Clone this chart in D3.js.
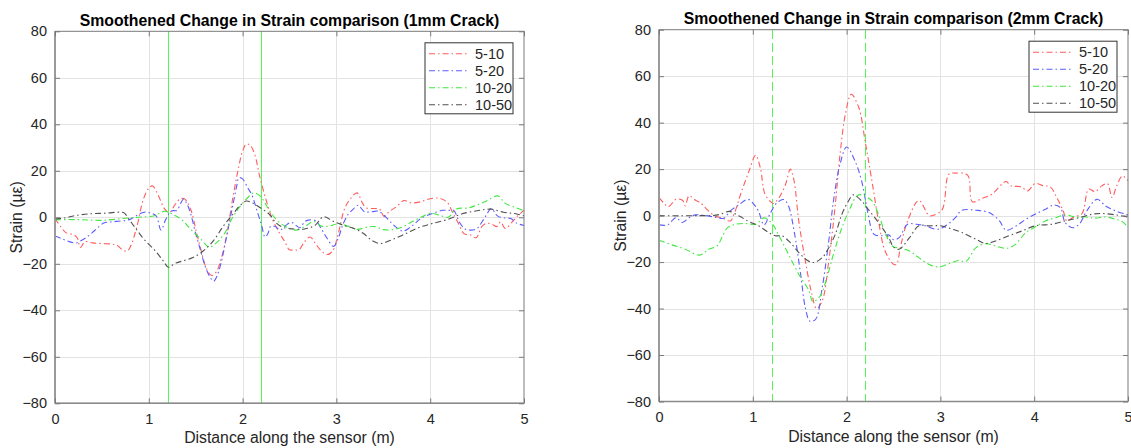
<!DOCTYPE html>
<html>
<head>
<meta charset="utf-8">
<script src="https://cdn.jsdelivr.net/npm/d3@7/dist/d3.min.js"></script>
<style>
  html, body { margin: 0; padding: 0; background: #fff; }
  svg { display: block; font-family: "Liberation Sans", Arial, Helvetica, sans-serif; }
</style>
</head>
<body>
<svg id="chart" width="1131" height="448"></svg>
<script>
// ---- data -------------------------------------------------------------
const seriesNames = ["5-10", "5-20", "10-20", "10-50"];
const xTicks = [0, 1, 2, 3, 4, 5];
const yTicks = [-80, -60, -40, -20, 0, 20, 40, 60, 80];
const crackMarks = [1.2, 2.2];
const titles = [
  "Smoothened Change in Strain comparison (1mm Crack)",
  "Smoothened Change in Strain comparison (2mm Crack)"
];

// 1mm crack: [distance (m), strain (µε)]
const crack1_5_10 = [[0,-0.5],[0.06,-4],[0.12,-6.7],[0.2,-7.5],[0.24,-9],[0.27,-13],[0.32,-10.5],[0.4,-11],[0.5,-11.3],[0.6,-11.5],[0.66,-12],[0.72,-14],[0.77,-14.5],[0.81,-12],[0.87,-4.5],[0.94,7.5],[1.0,12.5],[1.04,13.5],[1.1,9.5],[1.17,3.5],[1.22,2],[1.28,5.5],[1.33,7.8],[1.38,8],[1.45,3],[1.5,-5],[1.55,-13],[1.62,-22.5],[1.67,-25],[1.72,-23.5],[1.77,-18],[1.83,-8],[1.89,7],[1.96,22],[2.0,28.5],[2.04,31.5],[2.08,31],[2.13,27],[2.18,18],[2.25,7.5],[2.32,-1],[2.39,-6.5],[2.45,-10.5],[2.5,-14],[2.55,-14],[2.6,-14],[2.66,-10.5],[2.72,-8.5],[2.78,-11.5],[2.84,-14.5],[2.9,-16],[2.96,-14.5],[3.02,-7],[3.09,4],[3.16,8.5],[3.22,10.5],[3.28,6],[3.32,4],[3.4,3.8],[3.46,3.5],[3.51,0.3],[3.56,2.4],[3.64,4.5],[3.72,7.2],[3.8,6.2],[3.9,6.7],[4.0,8],[4.1,8.2],[4.18,6.5],[4.24,2],[4.3,-2.6],[4.36,-7],[4.43,-7.6],[4.49,-8.8],[4.55,-4],[4.6,-2.6],[4.66,-3],[4.71,-4],[4.75,-2],[4.8,-4.8],[4.87,-2.2],[4.93,0.5],[5.0,3]];
const crack1_5_20 = [[0,-8],[0.06,-9],[0.12,-10],[0.18,-10.8],[0.23,-11],[0.28,-10],[0.34,-8.5],[0.4,-6.5],[0.45,-4.7],[0.52,-2.5],[0.6,-2],[0.7,-1.6],[0.78,-1.2],[0.84,0],[0.9,1.5],[0.95,2.2],[1.02,1.8],[1.08,0.5],[1.13,-5.5],[1.18,-1],[1.24,2.7],[1.3,3],[1.34,6],[1.37,7.8],[1.41,5.5],[1.45,1],[1.5,-7],[1.55,-14],[1.6,-21],[1.65,-25.5],[1.69,-27.5],[1.73,-25],[1.78,-18],[1.82,-10],[1.86,-2],[1.9,6],[1.94,14],[1.96,17],[2.0,16.5],[2.05,13],[2.1,9.5],[2.16,2],[2.2,-3],[2.24,-8.5],[2.27,-7],[2.3,-3.8],[2.35,-4],[2.4,-5.5],[2.46,-3.5],[2.52,-2.2],[2.57,-3.5],[2.61,-4.5],[2.66,-2],[2.7,-1.2],[2.78,-1.5],[2.84,-5],[2.9,-9],[2.97,-12.5],[3.02,-9],[3.07,-3],[3.13,1.5],[3.18,3.5],[3.23,5.2],[3.3,2.4],[3.38,2.4],[3.45,2.6],[3.53,0],[3.6,-3],[3.66,-5],[3.71,-6],[3.78,-4.5],[3.84,-2.6],[3.9,-0.5],[3.98,1],[4.05,2],[4.13,3],[4.2,3],[4.25,3],[4.31,-2],[4.37,-5],[4.43,-5.5],[4.5,-4.8],[4.56,-1.5],[4.6,1],[4.65,3.8],[4.72,0.5],[4.8,-0.3],[4.86,-0.5],[4.92,-2.5],[5.0,-3.5]];
const crack1_10_20 = [[0,-1],[0.25,-1],[0.5,-1.3],[0.78,-0.3],[0.92,0.1],[1.06,0.7],[1.12,1.8],[1.17,2.6],[1.26,1.2],[1.35,-1],[1.45,-5.3],[1.56,-9.6],[1.64,-12.8],[1.72,-11],[1.81,-6.8],[1.88,-1],[1.96,4],[2.05,8.3],[2.12,10.5],[2.19,9],[2.27,4],[2.36,-1],[2.46,-4],[2.57,-5.5],[2.68,-3.5],[2.76,-1.8],[2.84,-3.8],[2.92,-3.8],[3.02,-2.8],[3.12,-3.8],[3.22,-5.2],[3.33,-4.2],[3.41,-4],[3.5,-5.3],[3.6,-5.3],[3.7,-4.2],[3.8,-2],[3.9,0],[4.0,1.7],[4.09,1],[4.19,0],[4.28,3.6],[4.4,4],[4.48,5],[4.59,6.8],[4.72,9.2],[4.8,6],[4.91,4.2],[5.0,2.8]];
const crack1_10_50 = [[0,-0.7],[0.1,-0.3],[0.21,0.7],[0.32,1.3],[0.42,1.6],[0.55,1.8],[0.7,2.2],[0.74,1.8],[0.8,-1.5],[0.86,-4.8],[0.95,-9.5],[1.06,-14],[1.15,-18.5],[1.21,-21.5],[1.28,-19.8],[1.36,-18.8],[1.47,-17.3],[1.58,-14.5],[1.69,-10],[1.8,-3.5],[1.9,1.5],[1.97,5],[2.04,7],[2.1,6.3],[2.18,4.3],[2.28,1.5],[2.36,-2.5],[2.43,-4.3],[2.54,-5],[2.66,-5],[2.77,-3.5],[2.86,0.2],[2.97,-1.8],[3.08,-3.5],[3.2,-5],[3.29,-7],[3.38,-10],[3.47,-11.3],[3.6,-9.5],[3.74,-7],[3.88,-4.4],[4.02,-2.7],[4.18,-1],[4.34,1.5],[4.5,2.8],[4.65,3.5],[4.78,2.2],[4.9,1.6],[5.0,0.6]];

// 2mm crack: [distance (m), strain (µε)]
const crack2_5_10 = [[0,7.7],[0.05,5.5],[0.1,3.8],[0.18,7],[0.25,6.6],[0.28,4.2],[0.32,8.5],[0.39,6.6],[0.44,5.6],[0.51,2.7],[0.59,0],[0.67,-1],[0.76,-2.3],[0.8,0.6],[0.87,9.2],[0.96,19.2],[1.03,26],[1.08,20.6],[1.13,9.2],[1.19,6],[1.22,5.2],[1.28,7.7],[1.35,13.5],[1.4,20],[1.44,14.9],[1.49,-2.3],[1.56,-19.5],[1.63,-33.8],[1.68,-40],[1.74,-36.7],[1.81,-19.5],[1.88,4.9],[1.93,26.4],[1.99,44.3],[2.05,52.2],[2.13,46.5],[2.2,31.4],[2.27,14.9],[2.34,-2.3],[2.41,-15.2],[2.5,-20.9],[2.53,-21],[2.58,-12.4],[2.65,-2.3],[2.77,6.5],[2.88,0],[2.93,0.2],[3.02,2.7],[3.09,17.8],[3.16,18.3],[3.29,17.4],[3.34,6],[3.45,7.5],[3.55,9.2],[3.7,14.7],[3.75,12.8],[3.86,12.4],[3.93,10.6],[4.01,13.8],[4.1,12.8],[4.17,12.4],[4.24,7.8],[4.31,2],[4.35,-2.3],[4.42,-0.6],[4.51,0.9],[4.58,11.4],[4.65,10.3],[4.72,12.8],[4.78,13.8],[4.83,7.8],[4.88,12.8],[4.94,17.1],[5.0,15]];
const crack2_5_20 = [[0,-4],[0.09,-4],[0.18,-0.9],[0.25,-3],[0.32,-0.9],[0.39,0.3],[0.5,0],[0.59,-0.6],[0.69,-1.1],[0.76,2],[0.85,4.6],[0.95,7],[1.01,4.9],[1.06,2],[1.12,-4],[1.19,1.3],[1.26,5.6],[1.33,6.9],[1.38,4.2],[1.44,-6.6],[1.51,-25.2],[1.56,-39.6],[1.61,-45.5],[1.67,-44.6],[1.74,-31],[1.81,-10.9],[1.86,6.3],[1.93,22.1],[2.0,29.5],[2.09,23.5],[2.16,14.9],[2.23,0.6],[2.29,-8],[2.38,-8.7],[2.45,-8.3],[2.5,-10.4],[2.56,-9.5],[2.65,-3.7],[2.74,-3.7],[2.84,-4.4],[2.97,-5.9],[3.08,-3.7],[3.16,-0.9],[3.23,2.3],[3.38,2.3],[3.52,1.3],[3.63,-2.3],[3.7,-6.3],[3.81,-4.4],[3.91,-1.6],[4.01,0.6],[4.12,2.7],[4.21,4.6],[4.28,3.4],[4.33,-3],[4.41,-5.2],[4.48,-3.7],[4.56,2],[4.67,7],[4.76,4.2],[4.87,2],[5.0,0.3]];
const crack2_10_20 = [[0,-10.6],[0.14,-12.6],[0.28,-14.5],[0.43,-17],[0.53,-14.5],[0.62,-13],[0.67,-9.5],[0.73,-5.2],[0.82,-3.7],[0.92,-3.4],[1.03,-3.7],[1.12,-1],[1.21,-3.7],[1.29,-9.5],[1.38,-16.6],[1.49,-25.2],[1.6,-32.4],[1.64,-37],[1.72,-34.5],[1.79,-26.7],[1.86,-16.6],[1.95,-5.2],[2.04,3.4],[2.11,8.5],[2.16,9],[2.2,8.3],[2.27,6.3],[2.34,0.6],[2.41,-7.3],[2.49,-13.2],[2.58,-14.1],[2.67,-15.2],[2.77,-18.1],[2.88,-21],[2.98,-22.1],[3.09,-20.7],[3.2,-19.3],[3.27,-19.8],[3.38,-13.8],[3.48,-12.1],[3.59,-13.1],[3.7,-14.1],[3.8,-12.4],[3.91,-7.3],[4.01,-4.9],[4.12,-2.3],[4.23,-0.9],[4.33,0.3],[4.44,-0.6],[4.55,-0.6],[4.65,-1.1],[4.76,-0.6],[4.87,-1.6],[4.94,-2.6],[5.0,-5.2]];
const crack2_10_50 = [[0,0],[0.21,-0.1],[0.43,0],[0.57,0],[0.66,0.6],[0.75,1.8],[0.85,-0.1],[0.96,-2.6],[1.06,-4.4],[1.17,-7.3],[1.24,-8.7],[1.31,-8.7],[1.4,-11.6],[1.49,-15.9],[1.58,-19.2],[1.65,-20.2],[1.74,-18.1],[1.81,-13.8],[1.88,-8],[1.95,0.6],[2.02,6.3],[2.07,8.9],[2.16,6.3],[2.23,2.7],[2.34,-3],[2.45,-9.5],[2.5,-13.5],[2.56,-14.5],[2.67,-9.5],[2.77,-4.4],[2.88,-4.4],[3.0,-4.4],[3.13,-5.9],[3.23,-7.3],[3.38,-10.2],[3.48,-12],[3.59,-10.9],[3.73,-8.7],[3.87,-6.6],[4.01,-4.4],[4.19,-3.7],[4.33,-2.3],[4.48,-0.9],[4.62,0.6],[4.72,0.9],[4.87,0.3],[5.0,-0.6]];

// ---- styling / layout ---------------------------------------------------
const lineColors = ["#ff5c5c", "#5c5cff", "#3fe83f", "#505050"];
const markColor = "#55f555";
const axisColor = "#262626";
const frameColor = "#7a7a7a";
const gridColor = "#e3e3e3";
const fontFamily = "'Liberation Sans', Arial, Helvetica, sans-serif";

const panels = [
  { left: 55, right: 524, top: 31.3, bottom: 403.3, titleY: 25.5, crackDash: null,
    series: [crack1_5_10, crack1_5_20, crack1_10_20, crack1_10_50], title: titles[0], ylabelX: 16 },
  { left: 659, right: 1128, top: 29.7, bottom: 401.5, titleY: 24, crackDash: "9,4",
    series: [crack2_5_10, crack2_5_20, crack2_10_20, crack2_10_50], title: titles[1], ylabelX: 620 }
];

const svg = d3.select("#chart");
const crisp = v => Math.round(v) + 0.5;

panels.forEach(p => {
  const x = d3.scaleLinear().domain([0, 5]).range([p.left, p.right]);
  const y = d3.scaleLinear().domain([-80, 80]).range([p.bottom, p.top]);
  const g = svg.append("g");

  // grid
  g.append("g").selectAll("line").data(xTicks.slice(1, -1)).join("line")
    .attr("x1", d => crisp(x(d))).attr("x2", d => crisp(x(d)))
    .attr("y1", p.top).attr("y2", p.bottom)
    .attr("stroke", gridColor).attr("stroke-width", 1);
  g.append("g").selectAll("line").data(yTicks.slice(1, -1)).join("line")
    .attr("x1", p.left).attr("x2", p.right)
    .attr("y1", d => crisp(y(d))).attr("y2", d => crisp(y(d)))
    .attr("stroke", gridColor).attr("stroke-width", 1);

  // crack boundary markers
  g.append("g").selectAll("line").data(crackMarks).join("line")
    .attr("x1", d => crisp(x(d))).attr("x2", d => crisp(x(d)))
    .attr("y1", p.top).attr("y2", p.bottom)
    .attr("stroke", markColor).attr("stroke-width", 1)
    .attr("shape-rendering", "crispEdges")
    .attr("stroke-dasharray", p.crackDash);

  // series
  const line = d3.line()
    .x(d => x(d[0])).y(d => y(d[1]))
    .curve(d3.curveCatmullRom.alpha(0.5));
  g.append("g").selectAll("path").data(p.series).join("path")
    .attr("d", d => line(d))
    .attr("fill", "none")
    .attr("stroke", (d, i) => lineColors[i])
    .attr("stroke-width", 1.1)
    .attr("stroke-dasharray", "6,3,1.5,3");

  // frame
  g.append("rect")
    .attr("x", p.left).attr("y", p.top)
    .attr("width", p.right - p.left).attr("height", p.bottom - p.top)
    .attr("fill", "none").attr("stroke", frameColor).attr("stroke-width", 1);
  g.append("line").attr("x1", p.left).attr("x2", p.left).attr("y1", p.top).attr("y2", p.bottom)
    .attr("stroke", "#9a9a9a").attr("stroke-width", 2);
  g.append("line").attr("x1", p.left).attr("x2", p.right).attr("y1", p.bottom).attr("y2", p.bottom)
    .attr("stroke", "#8a8a8a").attr("stroke-width", 1.6);

  // axes (ticks pointing inward, top/right mirrored)
  const axB = d3.axisBottom(x).tickValues(xTicks).tickSize(-5).tickPadding(10).tickFormat(d3.format("d"));
  const axT = d3.axisTop(x).tickValues(xTicks).tickSize(-5).tickFormat("");
  const axL = d3.axisLeft(y).tickValues(yTicks).tickSize(-5).tickPadding(8).tickFormat(d3.format("d"));
  const axR = d3.axisRight(y).tickValues(yTicks).tickSize(-5).tickFormat("");
  const styleAxis = sel => {
    sel.select(".domain").remove();
    sel.selectAll(".tick line").attr("stroke", frameColor);
    sel.selectAll(".tick text").attr("fill", axisColor)
      .style("font-size", "14.5px").style("font-family", fontFamily);
  };
  g.append("g").attr("transform", `translate(0,${p.bottom})`).call(axB).call(styleAxis);
  g.append("g").attr("transform", `translate(0,${p.top})`).call(axT).call(styleAxis);
  g.append("g").attr("transform", `translate(${p.left},0)`).call(axL).call(styleAxis);
  g.append("g").attr("transform", `translate(${p.right},0)`).call(axR).call(styleAxis);

  // title and axis labels
  g.append("text").attr("x", (p.left + p.right) / 2).attr("y", p.titleY)
    .attr("text-anchor", "middle").attr("font-weight", "bold")
    .attr("font-size", 15.8).attr("fill", "#000").text(p.title);
  g.append("text").attr("x", (p.left + p.right) / 2).attr("y", p.bottom + 40)
    .attr("text-anchor", "middle").attr("font-size", 15.8).attr("fill", axisColor)
    .text("Distance along the sensor (m)");
  g.append("text")
    .attr("transform", `translate(${p.ylabelX},${(p.top + p.bottom) / 2}) rotate(-90)`)
    .attr("text-anchor", "middle").attr("dominant-baseline", "central")
    .attr("font-size", 15.8).attr("fill", axisColor)
    .text("Strain (µε)");

  // legend
  const lgW = 88, lgH = 71, lgX = p.right - 11 - lgW, lgY = p.top + 11.5;
  const lg = g.append("g").attr("transform", `translate(${lgX},${lgY})`);
  lg.append("rect").attr("width", lgW).attr("height", lgH)
    .attr("fill", "#fff").attr("stroke", "#333").attr("stroke-width", 1);
  const rows = lg.selectAll("g.row").data(seriesNames).join("g")
    .attr("transform", (d, i) => `translate(0,${11 + i * 17})`);
  rows.append("line").attr("x1", 4).attr("x2", 44)
    .attr("stroke", (d, i) => lineColors[i]).attr("stroke-width", 1.1)
    .attr("stroke-dasharray", "6,3,1.5,3");
  rows.append("text").attr("x", 50).attr("dominant-baseline", "central")
    .attr("font-size", 14.5).attr("fill", axisColor).text(d => d);
});
</script>
</body>
</html>
